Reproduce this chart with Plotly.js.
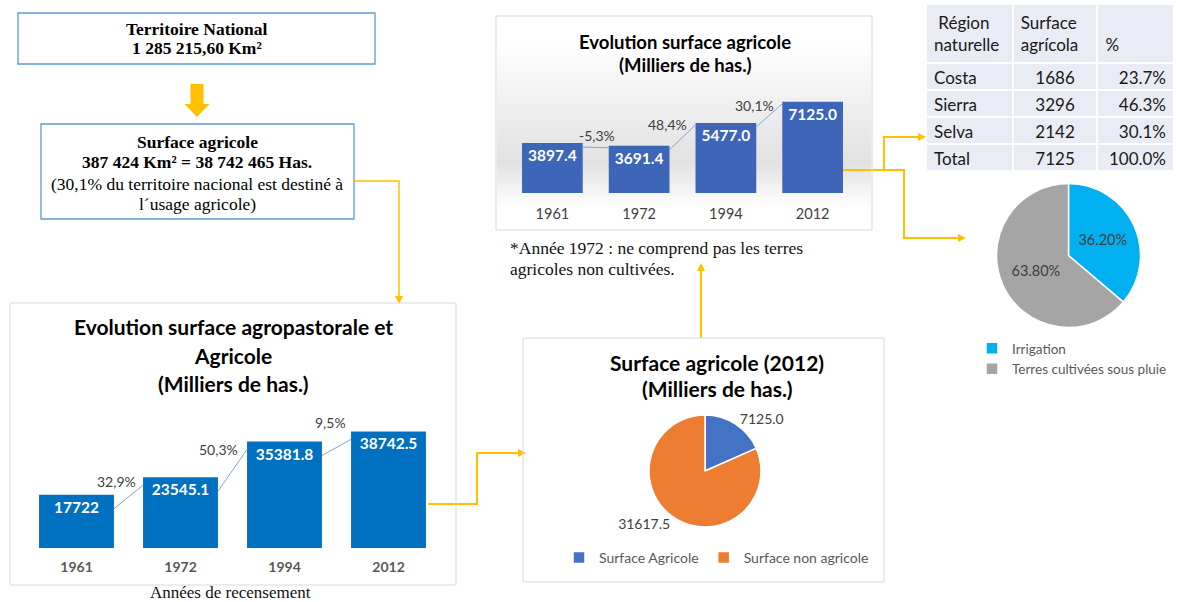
<!DOCTYPE html>
<html><head><meta charset="utf-8">
<script src="https://cdn.plot.ly/plotly-3.0.1.min.js"></script>
<style>html,body{margin:0;padding:0;background:#fff;overflow:hidden}#chart{width:1178px;height:602px;overflow:hidden}</style>
</head><body><div id="chart"></div>
<script>
// ---------- DATA ----------
const years = ['1961', '1972', '1994', '2012'];
const agropastoral = [17722, 23545.1, 35381.8, 38742.5];
const agropastoralGrowth = ['32,9%', '50,3%', '9,5%'];
const agricole = [3897.4, 3691.4, 5477.0, 7125.0];
const agricoleGrowth = ['-5,3%', '48,4%', '30,1%'];
const pie2012Labels = ['Surface Agricole', 'Surface non agricole'];
const pie2012Values = [7125.0, 31617.5];
const regions = ['Costa', 'Sierra', 'Selva', 'Total'];
const regionSurface = [1686, 3296, 2142, 7125];
const regionPct = ['23.7%', '46.3%', '30.1%', '100.0%'];
const tableHeader = [' Région<br>naturelle', 'Surface<br>agrícola', '\u00a0<br>%'];
const irrigLabels = ['Irrigation', 'Terres cultivées sous pluie'];
const irrigValues = [36.2, 63.8];

// ---------- HELPERS ----------
const W = 1178, H = 602;
const px = x => x / W, py = y => 1 - y / H;
const FONT = 'Lato, "Open Sans", sans-serif';
const SERIF = '"Liberation Serif", "Times New Roman", serif';
const YEL = '#FFC000';
const idx = years.map((_, i) => i);
const P = pts => 'M' + pts.map(([x, y]) => px(x).toFixed(5) + ',' + py(y).toFixed(5)).join('L');

const shapes = [];
const annotations = [];
function rect(x0, y0, x1, y1, color, width, fill, layer) {
  shapes.push({type: 'rect', xref: 'paper', yref: 'paper', x0: px(x0), x1: px(x1), y0: py(y1), y1: py(y0),
    line: {color: color, width: width}, fillcolor: fill || 'rgba(0,0,0,0)', layer: layer || 'above'});
}
function poly(pts, color, width) {
  shapes.push({type: 'path', xref: 'paper', yref: 'paper', path: P(pts), line: {color: color, width: width}});
}
function head(tx, ty, dir) {
  const L = 8, S = 4; let pts;
  if (dir === 'r') pts = [[tx, ty], [tx - L, ty - S], [tx - L, ty + S]];
  if (dir === 'd') pts = [[tx, ty], [tx - S, ty - L], [tx + S, ty - L]];
  if (dir === 'u') pts = [[tx, ty], [tx - S, ty + L], [tx + S, ty + L]];
  shapes.push({type: 'path', xref: 'paper', yref: 'paper', path: P(pts) + 'Z', fillcolor: YEL, line: {width: 0}});
}
function text(t, x, y, size, opts) {
  opts = opts || {};
  annotations.push(Object.assign({xref: 'paper', yref: 'paper', x: px(x), y: py(y), text: t, showarrow: false,
    xanchor: 'center', yanchor: 'middle',
    font: {family: opts.family || FONT, size: size, color: opts.color || '#000', weight: opts.bold ? 'bold' : 'normal'}}, opts.extra || {}));
}

// ---------- TOP-LEFT BOXES ----------
rect(18, 13, 375, 64, '#5B9BD5', 1.3);
text('Territoire National', 197, 29, 17.5, {family: SERIF, bold: true});
text('1 285 215,60 Km²', 197, 48, 17.5, {family: SERIF, bold: true});
shapes.push({type: 'path', xref: 'paper', yref: 'paper', fillcolor: YEL, line: {width: 0},
  path: P([[190.5, 84], [203.5, 84], [203.5, 104], [209.5, 104], [197, 117], [184.5, 104], [190.5, 104]]) + 'Z'});
rect(41, 124, 354, 219, '#5B9BD5', 1.3);
text('Surface agricole', 197, 142, 17.5, {family: SERIF, bold: true});
text('387 424 Km² = 38 742 465 Has.', 197, 162, 17.5, {family: SERIF, bold: true});
text('(30,1% du territoire nacional est destiné à', 197, 184, 17.5, {family: SERIF});
text('l´usage agricole)', 197, 204, 17.5, {family: SERIF});

// connectors
poly([[354, 181], [399, 181], [399, 297]], YEL, 1.5); head(399, 304, 'd');
poly([[428, 504], [477, 504], [477, 453], [519, 453]], YEL, 2); head(526, 453, 'r');
poly([[701, 338], [701, 270]], YEL, 2); head(701, 263, 'u');
poly([[843, 170], [904, 170], [904, 238], [959, 238]], YEL, 2); head(966, 238, 'r');
poly([[884, 170], [884, 137], [919, 137]], YEL, 2); head(926, 137, 'r');

// ---------- BOTTOM-LEFT CHART ----------
rect(10, 303, 456, 585, '#D9D9D9', 1);
text('Evolution surface agropastorale et', 233, 327, 21, {bold: true});
text('Agricole', 233, 355, 21, {bold: true});
text('(Milliers de has.)', 233, 383, 21, {bold: true});
text('Années de recensement', 230, 592, 17, {family: SERIF, color: '#111'});

const k1 = 0.00301;          // px per unit (bottom-left)
const w1 = 0.72;
const seg1 = {x: [], y: []};
for (let i = 0; i < agropastoral.length - 1; i++) {
  seg1.x.push(i + w1 / 2, i + 1 - w1 / 2, null);
  seg1.y.push(agropastoral[i] - 14 / k1, agropastoral[i + 1] - 8 / k1, null);
}
const lblShift1 = [[-5, 4], [-7, 0], [-3, 17]];
agropastoralGrowth.forEach((g, i) => {
  annotations.push({xref: 'x', yref: 'y', x: i + 1 - w1 / 2, y: agropastoral[i + 1] - 8 / k1, text: g, showarrow: false,
    xanchor: 'right', yanchor: 'middle', xshift: lblShift1[i][0], yshift: lblShift1[i][1],
    font: {family: FONT, size: 14, color: '#404040'}});
});

// ---------- TOP-MIDDLE CHART ----------
for (let y = 17; y < 229; y += 4) {
  let g = 0;
  if (y >= 40 && y < 160) g = (y - 40) / 120;
  else if (y >= 160 && y < 205) g = 1 - (y - 160) / 45;
  const c = Math.round(255 - 30 * g);
  shapes.push({type: 'rect', xref: 'paper', yref: 'paper', x0: px(497), x1: px(871), y0: py(Math.min(y + 4, 229)), y1: py(y),
    fillcolor: `rgb(${c},${c},${c})`, line: {width: 0}, layer: 'below'});
}
rect(496, 16, 872, 230, '#D9D9D9', 1);
text('Evolution surface agricole', 685, 42, 18.5, {bold: true});
text('(Milliers de has.)', 685, 65, 18.5, {bold: true});
text('*Année 1972 : ne comprend pas les terres', 508, 248, 17.5, {family: SERIF, color: '#111', extra: {xanchor: 'left'}});
text('agricoles non cultivées.', 508, 269, 17.5, {family: SERIF, color: '#111', extra: {xanchor: 'left'}});

const k2 = 0.0128;
const w2 = 0.70;
const seg2 = {x: [], y: []};
for (let i = 0; i < agricole.length - 1; i++) {
  seg2.x.push(i + w2 / 2, i + 1 - w2 / 2, null);
  seg2.y.push(agricole[i] - 4 / k2, agricole[i + 1] - 2 / k2, null);
}
const lblShift2 = [[8, 12], [-7, 0], [-6, -2]];
agricoleGrowth.forEach((g, i) => {
  annotations.push({xref: 'x2', yref: 'y2', x: i + 1 - w2 / 2, y: agricole[i + 1] - 2 / k2, text: g, showarrow: false,
    xanchor: 'right', yanchor: 'middle', xshift: lblShift2[i][0], yshift: lblShift2[i][1],
    font: {family: FONT, size: 14, color: '#404040'}});
});

// ---------- MIDDLE PIE BOX ----------
rect(523, 338, 884, 582, '#D9D9D9', 1);
text('Surface agricole (2012)', 717, 362, 21, {bold: true});
text('(Milliers de has.)', 717, 388, 21, {bold: true});

// ---------- TRACES ----------
const data = [
  {type: 'bar', x: idx, y: agropastoral, xaxis: 'x', yaxis: 'y', width: w1, marker: {color: '#0070C0'},
    text: agropastoral.map(v => String(v)), textposition: 'inside', insidetextanchor: 'end', constraintext: 'none',
    textangle: 0, textfont: {family: FONT, size: 15.5, color: '#fff', weight: 'bold'}, showlegend: false, hoverinfo: 'skip'},
  {type: 'scatter', mode: 'lines', x: seg1.x, y: seg1.y, xaxis: 'x', yaxis: 'y', line: {color: '#7FA3DC', width: 1},
    showlegend: false, hoverinfo: 'skip', connectgaps: false},
  {type: 'bar', x: idx, y: agricole, xaxis: 'x2', yaxis: 'y2', width: w2, marker: {color: '#3D66B8'},
    text: agricole.map(v => v.toFixed(1)), textposition: 'inside', insidetextanchor: 'end', constraintext: 'none',
    textangle: 0, textfont: {family: FONT, size: 15.5, color: '#fff', weight: 'bold'}, showlegend: false, hoverinfo: 'skip'},
  {type: 'scatter', mode: 'lines', x: seg2.x, y: seg2.y, xaxis: 'x2', yaxis: 'y2', line: {color: '#7FA3DC', width: 1},
    showlegend: false, hoverinfo: 'skip', connectgaps: false},
  {type: 'pie', labels: pie2012Labels, values: pie2012Values, sort: false, direction: 'clockwise', rotation: 0,
    domain: {x: [px(649), px(761)], y: [py(527), py(415)]},
    marker: {colors: ['#4472C4', '#ED7D31'], line: {color: '#fff', width: 1.5}},
    textposition: 'outside', texttemplate: '%{value:.1f}', textfont: {family: FONT, size: 14, color: '#404040'},
    legend: 'legend', hoverinfo: 'skip'},
  {type: 'pie', labels: irrigLabels, values: irrigValues, sort: false, direction: 'clockwise', rotation: 0,
    domain: {x: [px(996.5), px(1140.5)], y: [py(327.5), py(183.5)]},
    marker: {colors: ['#00B0F0', '#A5A5A5'], line: {color: '#fff', width: 1.5}},
    textposition: 'inside', insidetextorientation: 'horizontal', texttemplate: '%{percent:.2%}',
    textfont: {family: FONT, size: 14.5, color: '#404040'}, legend: 'legend2', hoverinfo: 'skip'},
  {type: 'table', domain: {x: [px(926), px(1174)], y: [py(185), py(4)]}, columnwidth: [86, 84, 76],
    header: {values: tableHeader, align: ['left', 'left', 'left'], height: 49,
      fill: {color: '#E9EBF5'}, line: {color: '#fff', width: 2}, font: {family: FONT, size: 17, color: '#1a1a1a'}},
    cells: {values: [regions, regionSurface.map(String), regionPct], align: ['left', 'center', 'right'], height: 27,
      fill: {color: '#E9EBF5'}, line: {color: '#fff', width: 2}, font: {family: FONT, size: 17, color: '#1a1a1a'}}}
];

const layout = {
  width: W, height: H, margin: {l: 0, r: 0, t: 0, b: 0}, paper_bgcolor: '#fff', plot_bgcolor: 'rgba(0,0,0,0)',
  hovermode: false,
  xaxis: {domain: [px(24.5), px(440.5)], range: [-0.5, 3.5], anchor: 'y', tickvals: idx, ticktext: years,
    showgrid: false, zeroline: false, showline: false, ticks: '', ticklabelstandoff: 9, fixedrange: true,
    tickfont: {family: FONT, size: 14, color: '#595959', weight: 'bold'}},
  yaxis: {domain: [py(548), py(548 - 49000 * k1)], range: [0, 49000], anchor: 'x', visible: false, fixedrange: true},
  xaxis2: {domain: [px(509), px(856)], range: [-0.5, 3.5], anchor: 'y2', tickvals: idx, ticktext: years,
    showgrid: false, zeroline: false, showline: false, ticks: '', ticklabelstandoff: 10, fixedrange: true,
    tickfont: {family: FONT, size: 14.5, color: '#404040'}},
  yaxis2: {domain: [py(193), py(193 - 9000 * k2)], range: [0, 9000], anchor: 'x2', visible: false, fixedrange: true},
  legend: {x: px(559), y: py(558), xanchor: 'left', yanchor: 'middle', orientation: 'h', bgcolor: 'rgba(0,0,0,0)',
    font: {family: FONT, size: 14, color: '#595959'}},
  legend2: {x: px(972), y: py(333), xanchor: 'left', yanchor: 'top', orientation: 'v', bgcolor: 'rgba(0,0,0,0)',
    font: {family: FONT, size: 13.5, color: '#595959'}},
  shapes: shapes, annotations: annotations
};

Plotly.newPlot('chart', data, layout, {displayModeBar: false, staticPlot: true});
</script>
</body></html>
